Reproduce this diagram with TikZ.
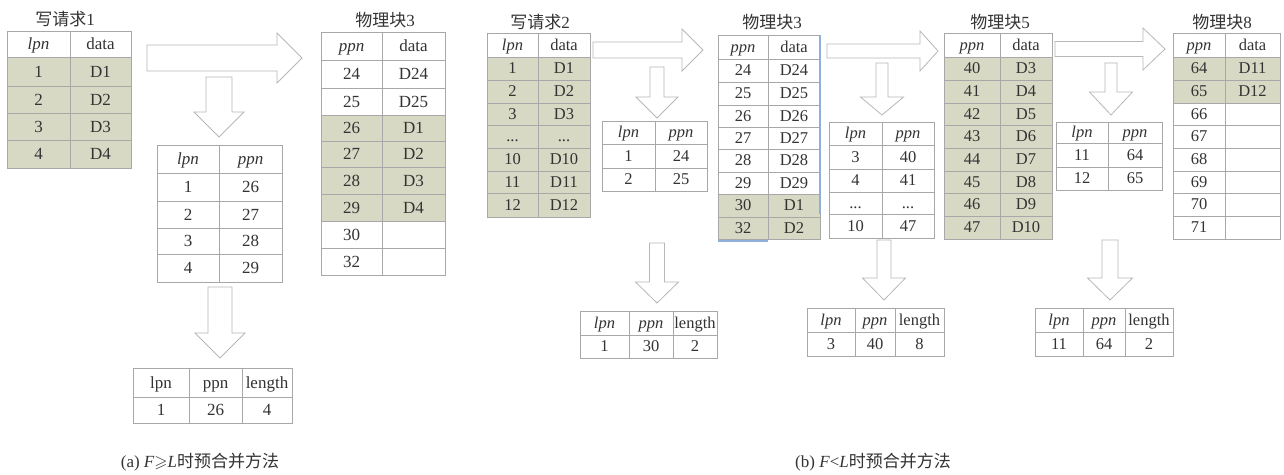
\documentclass[tikz,border=0pt]{standalone}
\usepackage{fontspec}
\usepackage{amssymb}
\setmainfont{Liberation Serif}
\newfontfamily\cjk{Noto Sans CJK SC}
\definecolor{shade}{HTML}{D7D9C5}
\definecolor{gridc}{HTML}{A8A8A8}
\definecolor{arrc}{HTML}{B8B8B8}
\definecolor{txt}{HTML}{333333}
\definecolor{selblue}{HTML}{8FB0DA}
\tikzset{
  grid/.style={draw=gridc,line width=0.7pt},
  cell/.style={inner sep=0pt,text=txt,font=\fontsize{16.5}{18}\selectfont,text height=10.9pt,text depth=0pt},
  ttl/.style={inner sep=0pt,text=txt,font=\fontsize{17}{19}\selectfont},
  captxt/.style={inner sep=0pt,text=txt,font=\fontsize{17}{19}\selectfont},
  blk/.style={draw=arrc,line width=0.8pt,fill=white,line join=miter}
}
% name x0 x1 ytop ybot text fill
\newcommand\TabCell[7]{%
  \filldraw[grid,fill=#7] (#2,#4) rectangle (#3,#5);
  \node[cell] (#1) at ({(#2+#3)/2},{(#4+#5)/2}) {#6};}
% name x0 xm x1 ytop ybot textL textR fill
\newcommand\TabRow[9]{\TabCell{#1a}{#2}{#3}{#5}{#6}{#7}{#9}\TabCell{#1b}{#3}{#4}{#5}{#6}{#8}{#9}}
% x0 xbase xtip yc shaftwidth headwidth
\newcommand\BlkArrR[6]{\draw[blk] (#1,{#4-#5/2}) -- (#2,{#4-#5/2}) -- (#2,{#4-#6/2}) -- (#3,#4) -- (#2,{#4+#6/2}) -- (#2,{#4+#5/2}) -- (#1,{#4+#5/2}) -- cycle;}
% xc y0 ybase ytip shaftwidth headwidth
\newcommand\BlkArrD[6]{\draw[blk] ({#1-#5/2},#2) -- ({#1-#5/2},#3) -- ({#1-#6/2},#3) -- (#1,#4) -- ({#1+#6/2},#3) -- ({#1+#5/2},#3) -- ({#1+#5/2},#2) -- cycle;}
\newcommand\lp{\textit{lpn}}
\newcommand\pp{\textit{ppn}}
\begin{document}
\begin{tikzpicture}[x=1pt,y=-1pt]
\useasboundingbox[fill=white] (0,0) rectangle (1284,474);

%================ (a) ================
\begin{scope}[cell/.style={inner sep=0pt,text=txt,font=\fontsize{17}{19}\selectfont,text height=11.2pt,text depth=0pt}]
\node[ttl] (ttlA1) at (65,19) {{\cjk 写请求}1};
\TabRow{aT1h}{7}{70}{131}{31}{57}{\lp}{data}{white}
\TabRow{aT1r1}{7}{70}{131}{57}{86}{1}{D1}{shade}
\TabRow{aT1r2}{7}{70}{131}{86}{113}{2}{D2}{shade}
\TabRow{aT1r3}{7}{70}{131}{113}{140}{3}{D3}{shade}
\TabRow{aT1r4}{7}{70}{131}{140}{168}{4}{D4}{shade}

\BlkArrR{147}{277}{302}{58}{26}{50}
\BlkArrD{219}{77}{112}{137}{26}{50}

\TabRow{aT2h}{157}{219}{282}{145}{173}{\lp}{\pp}{white}
\TabRow{aT2r1}{157}{219}{282}{173}{201}{1}{26}{white}
\TabRow{aT2r2}{157}{219}{282}{201}{228}{2}{27}{white}
\TabRow{aT2r3}{157}{219}{282}{228}{254}{3}{28}{white}
\TabRow{aT2r4}{157}{219}{282}{254}{282}{4}{29}{white}

\BlkArrD{220}{287}{333}{358}{24}{50}

\TabCell{aT3h1}{133}{189}{368}{397}{lpn}{white}
\TabCell{aT3h2}{189}{242}{368}{397}{ppn}{white}
\TabCell{aT3h3}{242}{292}{368}{397}{length}{white}
\TabCell{aT3r1}{133}{189}{397}{423}{1}{white}
\TabCell{aT3r2}{189}{242}{397}{423}{26}{white}
\TabCell{aT3r3}{242}{292}{397}{423}{4}{white}

\node[ttl] (ttlA2) at (385,20) {{\cjk 物理块}3};
\TabRow{aT4h}{321}{382}{445}{32}{60}{\pp}{data}{white}
\TabRow{aT4r1}{321}{382}{445}{60}{88}{24}{D24}{white}
\TabRow{aT4r2}{321}{382}{445}{88}{115}{25}{D25}{white}
\TabRow{aT4r3}{321}{382}{445}{115}{141}{26}{D1}{shade}
\TabRow{aT4r4}{321}{382}{445}{141}{167}{27}{D2}{shade}
\TabRow{aT4r5}{321}{382}{445}{167}{194}{28}{D3}{shade}
\TabRow{aT4r6}{321}{382}{445}{194}{221}{29}{D4}{shade}
\TabRow{aT4r7}{321}{382}{445}{221}{248}{30}{}{white}
\TabRow{aT4r8}{321}{382}{445}{248}{275}{32}{}{white}
\end{scope}

%================ (b) ================
\node[ttl] (ttlB1) at (540,22) {{\cjk 写请求}2};
\TabRow{bT1h}{487}{538}{590}{33}{57}{\lp}{data}{white}
\TabRow{bT1r1}{487}{538}{590}{57}{80}{1}{D1}{shade}
\TabRow{bT1r2}{487}{538}{590}{80}{103}{2}{D2}{shade}
\TabRow{bT1r3}{487}{538}{590}{103}{125}{3}{D3}{shade}
\TabRow{bT1r4}{487}{538}{590}{125}{148}{...}{...}{shade}
\TabRow{bT1r5}{487}{538}{590}{148}{171}{10}{D10}{shade}
\TabRow{bT1r6}{487}{538}{590}{171}{193}{11}{D11}{shade}
\TabRow{bT1r7}{487}{538}{590}{193}{217}{12}{D12}{shade}

\BlkArrR{593}{682}{703}{50}{16}{42}
\BlkArrD{657}{67}{97}{118}{14}{42}

\TabRow{bT2h}{602}{655}{707}{121}{144}{\lp}{\pp}{white}
\TabRow{bT2r1}{602}{655}{707}{144}{168}{1}{24}{white}
\TabRow{bT2r2}{602}{655}{707}{168}{191}{2}{25}{white}

\BlkArrD{657}{243}{282}{303}{15}{43}

\TabCell{bT3h1}{580}{629}{311}{335}{\lp}{white}
\TabCell{bT3h2}{629}{673}{311}{335}{\pp}{white}
\TabCell{bT3h3}{673}{717}{311}{335}{length}{white}
\TabCell{bT3r1}{580}{629}{335}{358}{1}{white}
\TabCell{bT3r2}{629}{673}{335}{358}{30}{white}
\TabCell{bT3r3}{673}{717}{335}{358}{2}{white}

\node[ttl] (ttlB2) at (772,22) {{\cjk 物理块}3};
\TabRow{bT4h}{718}{768}{820}{35}{59}{\pp}{data}{white}
\TabRow{bT4r1}{718}{768}{820}{59}{82}{24}{D24}{white}
\TabRow{bT4r2}{718}{768}{820}{82}{105}{25}{D25}{white}
\TabRow{bT4r3}{718}{768}{820}{105}{127}{26}{D26}{white}
\TabRow{bT4r4}{718}{768}{820}{127}{149}{27}{D27}{white}
\TabRow{bT4r5}{718}{768}{820}{149}{172}{28}{D28}{white}
\TabRow{bT4r6}{718}{768}{820}{172}{194}{29}{D29}{white}
\TabRow{bT4r7}{718}{768}{820}{194}{217}{30}{D1}{shade}
\TabRow{bT4r8}{718}{768}{820}{217}{239}{32}{D2}{shade}
\draw[selblue,line width=1.2pt] (820,35) -- (820,214);
\draw[selblue,line width=2pt] (718,241) -- (768,241);

\BlkArrR{827}{920}{938}{51}{14}{40}
\BlkArrD{882}{63}{97}{115}{12}{43}

\TabRow{bT5h}{829}{882}{934}{122}{145}{\lp}{\pp}{white}
\TabRow{bT5r1}{829}{882}{934}{145}{169}{3}{40}{white}
\TabRow{bT5r2}{829}{882}{934}{169}{192}{4}{41}{white}
\TabRow{bT5r3}{829}{882}{934}{192}{214}{...}{...}{white}
\TabRow{bT5r4}{829}{882}{934}{214}{238}{10}{47}{white}

\BlkArrD{884}{240}{278}{300}{14}{43}

\TabCell{bT6h1}{807}{855}{308}{332}{\lp}{white}
\TabCell{bT6h2}{855}{895}{308}{332}{\pp}{white}
\TabCell{bT6h3}{895}{944}{308}{332}{length}{white}
\TabCell{bT6r1}{807}{855}{332}{356}{3}{white}
\TabCell{bT6r2}{855}{895}{332}{356}{40}{white}
\TabCell{bT6r3}{895}{944}{332}{356}{8}{white}

\node[ttl] (ttlB3) at (1000,22) {{\cjk 物理块}5};
\TabRow{bT7h}{944}{1000}{1052}{33}{57}{\pp}{data}{white}
\TabRow{bT7r1}{944}{1000}{1052}{57}{80}{40}{D3}{shade}
\TabRow{bT7r2}{944}{1000}{1052}{80}{103}{41}{D4}{shade}
\TabRow{bT7r3}{944}{1000}{1052}{103}{125}{42}{D5}{shade}
\TabRow{bT7r4}{944}{1000}{1052}{125}{148}{43}{D6}{shade}
\TabRow{bT7r5}{944}{1000}{1052}{148}{171}{44}{D7}{shade}
\TabRow{bT7r6}{944}{1000}{1052}{171}{193}{45}{D8}{shade}
\TabRow{bT7r7}{944}{1000}{1052}{193}{216}{46}{D9}{shade}
\TabRow{bT7r8}{944}{1000}{1052}{216}{239}{47}{D10}{shade}

\BlkArrR{1055}{1143}{1165}{49}{15}{42}
\BlkArrD{1111}{63}{92}{115}{12}{43}

\TabRow{bT8h}{1056}{1108}{1162}{122}{143}{\lp}{\pp}{white}
\TabRow{bT8r1}{1056}{1108}{1162}{143}{167}{11}{64}{white}
\TabRow{bT8r2}{1056}{1108}{1162}{167}{190}{12}{65}{white}

\BlkArrD{1110}{240}{278}{300}{16}{45}

\TabCell{bT9h1}{1035}{1083}{308}{332}{\lp}{white}
\TabCell{bT9h2}{1083}{1125}{308}{332}{\pp}{white}
\TabCell{bT9h3}{1125}{1173}{308}{332}{length}{white}
\TabCell{bT9r1}{1035}{1083}{332}{356}{11}{white}
\TabCell{bT9r2}{1083}{1125}{332}{356}{64}{white}
\TabCell{bT9r3}{1125}{1173}{332}{356}{2}{white}

\node[ttl] (ttlB4) at (1222,22) {{\cjk 物理块}8};
\TabRow{bT10h}{1173}{1225}{1280}{33}{57}{\pp}{data}{white}
\TabRow{bT10r1}{1173}{1225}{1280}{57}{80}{64}{D11}{shade}
\TabRow{bT10r2}{1173}{1225}{1280}{80}{103}{65}{D12}{shade}
\TabRow{bT10r3}{1173}{1225}{1280}{103}{125}{66}{}{white}
\TabRow{bT10r4}{1173}{1225}{1280}{125}{148}{67}{}{white}
\TabRow{bT10r5}{1173}{1225}{1280}{148}{171}{68}{}{white}
\TabRow{bT10r6}{1173}{1225}{1280}{171}{193}{69}{}{white}
\TabRow{bT10r7}{1173}{1225}{1280}{193}{216}{70}{}{white}
\TabRow{bT10r8}{1173}{1225}{1280}{216}{239}{71}{}{white}

%================ captions ================
\node[captxt] (capA) at (200,462) {(a) \textit{F}$\geqslant$\textit{L}{\cjk 时预合并方法}};
\node[captxt] (capB) at (873,462) {(b) \textit{F}<\textit{L}{\cjk 时预合并方法}};
\end{tikzpicture}
\end{document}
